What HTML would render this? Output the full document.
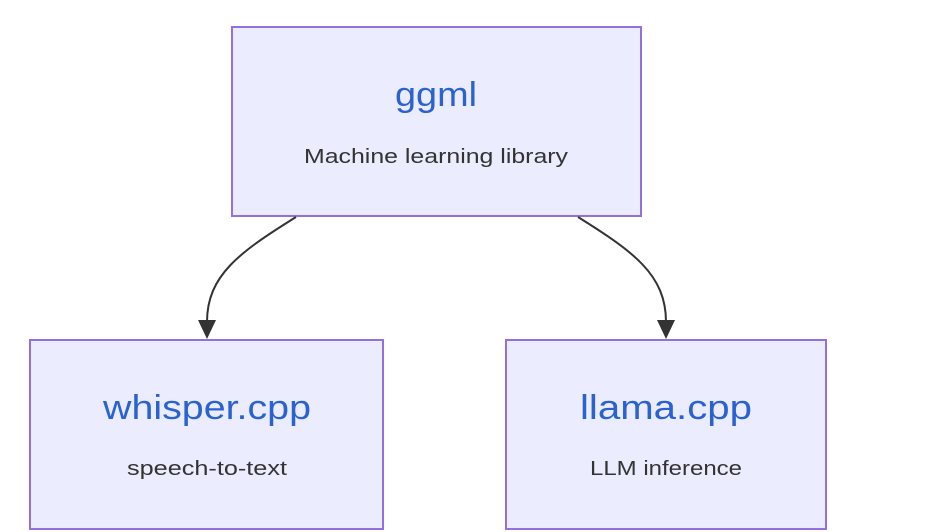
<!DOCTYPE html>
<html><head><style>
html,body{margin:0;padding:0;background:#fff;width:934px;height:532px;overflow:hidden}
</style></head><body>
<svg width="934" height="532" xmlns="http://www.w3.org/2000/svg" font-family="'Liberation Sans', 'DejaVu Sans Condensed', sans-serif">
<rect x="232" y="27" width="409" height="189" fill="#ECECFF" stroke="#9370DB" stroke-width="2"/>
<rect x="30" y="340" width="353" height="189" fill="#ECECFF" stroke="#9370DB" stroke-width="2"/>
<rect x="506" y="340" width="320" height="189" fill="#ECECFF" stroke="#9370DB" stroke-width="2"/>
<path d="M296 217 C240 252 207 275 207 322" fill="none" stroke="#333" stroke-width="2"/>
<path d="M578 217 C634 252 666 275 666 322" fill="none" stroke="#333" stroke-width="2"/>
<polygon points="198,320 216,320 207,339" fill="#333"/>
<polygon points="657,320 675,320 666,339" fill="#333"/>
<text x="436" y="106" text-anchor="middle" font-size="34" fill="#2a62d0" textLength="82" lengthAdjust="spacingAndGlyphs">ggml</text>
<text x="436" y="163" text-anchor="middle" font-size="20" fill="#333" textLength="264" lengthAdjust="spacingAndGlyphs">Machine learning library</text>
<text x="207" y="419" text-anchor="middle" font-size="34" fill="#2a62d0" textLength="208" lengthAdjust="spacingAndGlyphs">whisper.cpp</text>
<text x="207" y="475" text-anchor="middle" font-size="20" fill="#333" textLength="160" lengthAdjust="spacingAndGlyphs">speech-to-text</text>
<text x="666" y="419" text-anchor="middle" font-size="34" fill="#2a62d0" textLength="172" lengthAdjust="spacingAndGlyphs">llama.cpp</text>
<text x="666" y="475" text-anchor="middle" font-size="20" fill="#333" textLength="152" lengthAdjust="spacingAndGlyphs">LLM inference</text>
</svg>
</body></html>
